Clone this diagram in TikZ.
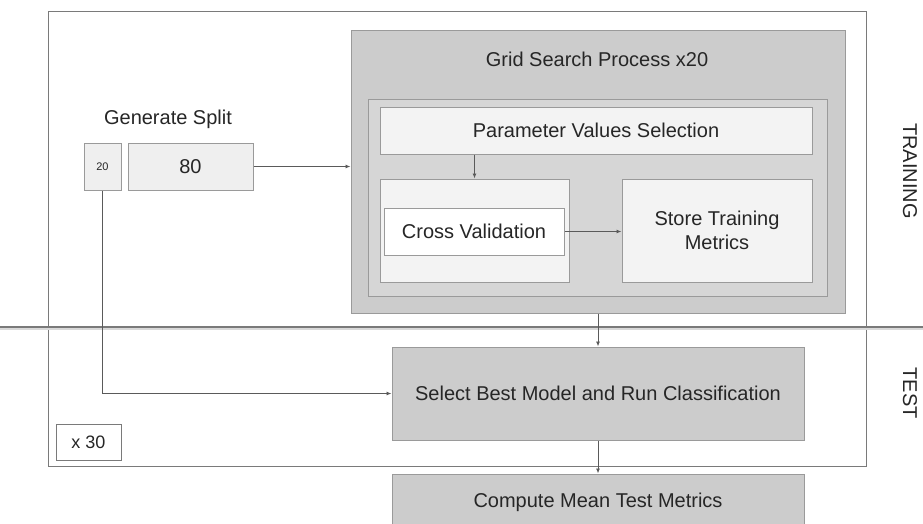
\documentclass[tikz,border=0pt]{standalone}
\usepackage{fontspec}
\setmainfont{Liberation Sans}
\usetikzlibrary{arrows.meta}
\definecolor{boxline}{HTML}{9A9A9A}
\definecolor{darkfill}{HTML}{CCCCCC}
\definecolor{midfill}{HTML}{D6D6D6}
\definecolor{lightfill}{HTML}{F3F3F3}
\definecolor{splitfill}{HTML}{EFEFEF}
\definecolor{conn}{HTML}{5A5A5A}
\definecolor{framecol}{HTML}{7A7A7A}
\tikzset{
  bx/.style={draw=boxline, line width=1pt, rectangle, inner sep=0pt, align=center,
    font=\fontsize{20}{24}\selectfont, text=black!85},
  arr/.style={draw=conn, line width=0.9pt, -{Latex[length=5pt,width=4pt]}},
  ln/.style={draw=conn, line width=0.9pt},
  lbl/.style={font=\fontsize{20}{24}\selectfont, text=black!85, inner sep=0pt}
}
\begin{document}
\begin{tikzpicture}[x=1pt,y=-1pt]
\useasboundingbox (0,0) rectangle (923,523);
\clip (0,0) rectangle (923,523);
\fill[white] (0,0) rectangle (923,523);
% outer frame
\node[draw=framecol, line width=1pt, minimum width=818pt, minimum height=455pt, inner sep=0pt] (frame) at (457,238.5) {};
% separator
\coordinate (sepL) at (0,327);
\coordinate (sepR) at (923,327);
\draw[black!15, line width=2pt] ([yshift=-2pt]sepL) -- ([yshift=-2pt]sepR);
\draw[framecol, line width=1.2pt] (sepL) -- (sepR);
% grid search
\node[bx, fill=darkfill, minimum width=494pt, minimum height=283pt] (grid) at (598,171.5) {};
\node[lbl] (gridt) at (597,59) {Grid Search Process x20};
\node[bx, fill=midfill, minimum width=459pt, minimum height=197pt] (inner) at (597.5,197.5) {};
\node[bx, fill=lightfill, minimum width=432pt, minimum height=47pt] (pvs) at (596,130.5) {Parameter Values Selection};
\node[bx, fill=lightfill, minimum width=189pt, minimum height=103pt] (cvo) at (474.5,230.5) {};
\node[bx, fill=white, minimum width=180pt, minimum height=47pt] (cvi) at (474,231.5) {Cross Validation};
\node[bx, fill=lightfill, minimum width=190pt, minimum height=103pt] (stm) at (717,230.5) {Store Training\\Metrics};
% split
\node[lbl] (gen) at (168,119) {Generate Split};
\node[bx, fill=splitfill, minimum width=37pt, minimum height=47pt, font=\fontsize{11}{13}\selectfont] (b20) at (102.5,166.5) {20};
\node[bx, fill=splitfill, minimum width=125pt, minimum height=47pt] (b80) at (190.5,166.5) {80};
% test
\node[bx, fill=darkfill, minimum width=412pt, minimum height=93pt] (sel) at (598,393.5) {Select Best Model and Run Classification};
\node[bx, fill=darkfill, minimum width=412pt, minimum height=56pt] (comp) at (598,502) {Compute Mean Test Metrics};
\node[draw=framecol, line width=1pt, fill=white, minimum width=65pt, minimum height=36pt, inner sep=0pt, font=\fontsize{18}{22}\selectfont, text=black!85] (x30) at (88.5,442) {x 30};
% side labels
\node[lbl, rotate=-90] (train) at (910,171) {TRAINING};
\node[lbl, rotate=-90] (test) at (910,393) {TEST};
% connectors
\draw[arr] (b80.east) -- (b80.east -| grid.west);
\draw[arr] (pvs.south -| cvo.north) -- (cvo.north);
\draw[arr] (cvi.east) -- (cvi.east -| stm.west);
\draw[arr] (grid.south -| sel.north) -- (sel.north);
\draw[arr] (b20.south) -- (b20.south |- sel.west) -- (sel.west);
\draw[arr] (sel.south) -- (comp.north);
\end{tikzpicture}
\end{document}
